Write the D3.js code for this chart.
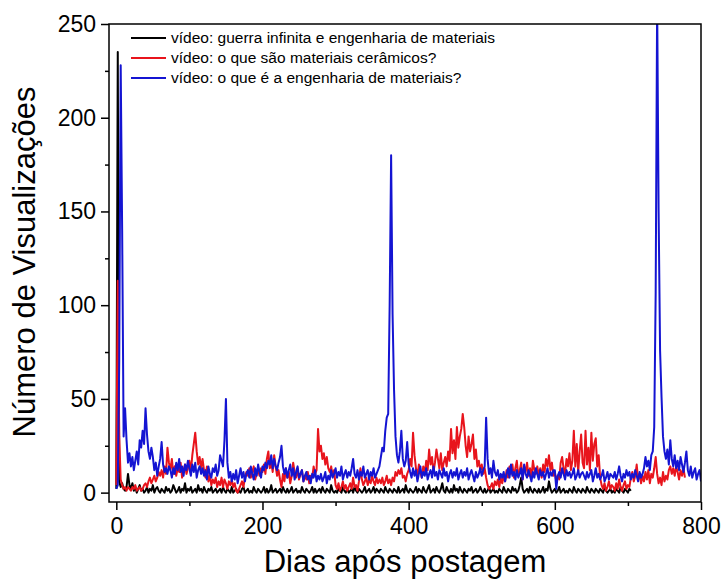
<!DOCTYPE html>
<html>
<head>
<meta charset="utf-8">
<script src="https://cdn.jsdelivr.net/npm/d3@7"></script>
<style>
  html, body { margin: 0; padding: 0; background: #fff; }
  svg text { font-family: "Liberation Sans", Arial, sans-serif; fill: #000; }
</style>
</head>
<body>
<svg id="chart" width="722" height="579"></svg>
<script>
  // one value every 2 days, starting at day 0
  var step = 2;

  var blackViews = [
    2, 235, 6, 3, 5, 2, 1, 3, 10, 4,
    2, 5, 1, 3, 0, 2, 4, 1, 2, 0,
    1, 3, 0, 2, 1, 4, 0, 2, 3, 1,
    0, 2, 1, 0, 3, 1, 2, 0, 1, 4,
    2, 0, 1, 3, 0, 2, 1, 5, 0, 2,
    1, 3, 0, 1, 2, 0, 4, 1, 2, 0,
    3, 1, 0, 2, 1, 3, 0, 1, 2, 0,
    1, 2, 0, 3, 1, 0, 2, 1, 0, 3,
    0, 1, 2, 0, 1, 0, 2, 3, 0, 1,
    2, 0, 1, 0, 3, 1, 0, 2, 1, 0,
    1, 3, 0, 2, 0, 1, 4, 0, 1, 2,
    0, 1, 2, 0, 3, 1, 0, 2, 0, 1,
    3, 0, 1, 2, 0, 1, 0, 3, 1, 0,
    2, 1, 0, 1, 3, 0, 2, 0, 1, 2,
    0, 3, 1, 0, 2, 1, 0, 4, 1, 0,
    1, 0, 2, 1, 0, 3, 1, 0, 2, 0,
    1, 2, 0, 3, 1, 0, 2, 1, 0, 1,
    3, 0, 1, 2, 0, 1, 3, 0, 2, 1,
    0, 2, 1, 0, 3, 1, 0, 2, 1, 0,
    2, 1, 0, 3, 0, 1, 2, 0, 4, 1,
    0, 2, 1, 0, 1, 3, 0, 2, 1, 0,
    3, 1, 0, 2, 4, 0, 1, 2, 0, 3,
    1, 0, 2, 5, 1, 0, 3, 1, 0, 2,
    0, 4, 1, 2, 0, 3, 1, 0, 2, 1,
    0, 2, 1, 3, 0, 1, 2, 0, 1, 3,
    1, 0, 2, 0, 1, 3, 0, 1, 2, 0,
    1, 0, 2, 1, 0, 3, 1, 0, 2, 1,
    0, 3, 1, 2, 0, 1, 4, 8, 2, 0,
    1, 2, 0, 3, 1, 0, 2, 1, 0, 2,
    0, 1, 3, 0, 2, 1, 6, 2, 0, 1,
    2, 0, 1, 3, 0, 1, 2, 0, 1, 0,
    2, 1, 0, 3, 1, 0, 2, 1, 0, 2,
    1, 0, 3, 1, 0, 2, 1, 0, 2, 1,
    0, 2, 1, 0, 3, 1, 0, 1, 2, 0,
    1, 0, 2, 1, 0, 3, 1, 0, 2, 1,
    0, 2, 1
  ];

  var redViews = [
    4, 113, 30, 7, 4, 2, 3, 1, 3, 2,
    1, 3, 2, 4, 1, 2, 3, 1, 2, 4,
    5, 3, 6, 8, 5, 7, 9, 6, 8, 11,
    9, 12, 8, 14, 10, 24, 16, 12, 18, 10,
    14, 9, 13, 11, 16, 8, 12, 15, 10, 13,
    17, 11, 20, 26, 32, 22, 15, 19, 13, 18,
    12, 8, 14, 6, 9, 4, 7, 5, 8, 3,
    6, 4, 8, 3, 7, 5, 2, 6, 4, 7,
    3, 5, 1, 0, 2, 4, 6, 3, 8, 11,
    9, 13, 8, 11, 14, 7, 10, 12, 9, 13,
    11, 15, 10, 18, 22, 13, 16, 11, 20, 14,
    9, 12, 7, 3, 10, 6, 13, 8, 11, 5,
    9, 16, 11, 8, 13, 7, 10, 12, 6, 9,
    7, 11, 5, 9, 8, 14, 10, 12, 34, 22,
    25, 18, 21, 15, 19, 13, 11, 14, 9, 12,
    4, 2, 5, 1, 3, 6, 2, 4, 1, 3,
    5, 2, 8, 3, 4, 1, 6, 13, 7, 4,
    6, 8, 4, 7, 5, 9, 6, 4, 8, 5,
    7, 5, 8, 4, 6, 9, 5, 7, 4, 8,
    6, 11, 9, 12, 10, 13, 8, 9, 6, 10,
    12, 18, 14, 32, 20, 13, 9, 15, 11, 8,
    14, 10, 17, 12, 23, 15, 19, 11, 16, 23,
    18, 13, 21, 12, 16, 19, 14, 22, 17, 34,
    21, 28, 18, 35, 24, 30, 34, 42, 35, 25,
    19, 30, 22, 26, 31, 18, 23, 14, 17, 12,
    15, 10, 13, 8, 4, 2, 3, 5, 2, 6,
    4, 7, 3, 8, 5, 9, 6, 12, 8, 14,
    10, 15, 8, 13, 17, 9, 12, 16, 7, 14,
    11, 16, 9, 13, 8, 17, 12, 10, 14, 9,
    13, 8, 15, 11, 18, 14, 20, 12, 16, 9,
    11, 6, 9, 7, 16, 19, 13, 10, 18, 14,
    21, 12, 17, 33, 14, 26, 11, 22, 31, 16,
    13, 33, 15, 24, 12, 32, 17, 26, 29, 14,
    20, 8, 4, 2, 5, 1, 3, 6, 2, 4,
    3, 1, 5, 2, 7, 3, 1, 4, 6, 2,
    4, 3, 8, 11, 6, 9, 15, 7, 10, 5,
    9, 6, 11, 7, 12, 5, 10, 8, 13, 19,
    10, 5, 8, 4, 11, 6, 9, 7, 12, 14,
    10, 13, 9, 14, 11, 7, 12, 9, 13, 8
  ];

  var blueViews = [
    2, 4, 70, 228, 140, 30, 45, 28, 16, 21,
    14, 19, 12, 17, 22, 15, 28, 24, 33, 26,
    45, 31, 22, 18, 24, 19, 12, 16, 9, 14,
    18, 27, 15, 11, 13, 10, 14, 12, 8, 13,
    10, 16, 12, 18, 11, 14, 9, 15, 12, 17,
    13, 9, 15, 11, 16, 8, 12, 14, 10, 13,
    9, 12, 7, 14, 10, 8, 13, 11, 15, 9,
    12, 20, 17, 14, 28, 50, 16, 8, 11, 6,
    10, 7, 12, 5, 9, 13, 8, 11, 6, 10,
    12, 8, 14, 10, 7, 13, 9, 15, 11, 8,
    14, 12, 16, 13, 17, 15, 20, 13, 18, 14,
    12, 16, 19, 25, 14, 10, 13, 8, 12, 15,
    9, 13, 7, 11, 14, 8, 10, 12, 6, 9,
    11, 7, 9, 5, 10, 8, 12, 6, 9, 7,
    10, 6, 8, 11, 5, 9, 7, 12, 8, 10,
    13, 8, 11, 9, 14, 7, 10, 12, 8, 11,
    9, 13, 18, 10, 8, 12, 7, 11, 9, 14,
    8, 10, 12, 7, 11, 9, 13, 8, 10, 12,
    14, 19, 24, 22, 33, 40, 42, 100, 180, 95,
    55, 30, 20, 16, 22, 33, 18, 14, 17, 27,
    15, 11, 8, 13, 9, 12, 6, 10, 14, 8,
    11, 9, 13, 7, 10, 12, 8, 14, 9, 11,
    7, 12, 10, 8, 13, 9, 11, 6, 10, 12,
    8, 11, 9, 13, 7, 10, 12, 8, 11, 9,
    13, 7, 10, 12, 9, 6, 11, 8, 10, 13,
    9, 12, 14, 40, 18, 10, 13, 8, 17, 11,
    9, 12, 7, 10, 8, 11, 6, 10, 13, 8,
    15, 9, 11, 7, 12, 8, 10, 13, 7, 15,
    10, 8, 12, 9, 6, 11, 8, 13, 10, 7,
    12, 9, 11, 7, 10, 13, 8, 11, 9, 12,
    12, 2, 9, 11, 8, 13, 10, 7, 12, 9,
    11, 8, 10, 13, 7, 9, 12, 8, 10, 11,
    9, 7, 11, 8, 10, 12, 6, 9, 13, 8,
    10, 7, 9, 12, 6, 8, 11, 7, 10, 9,
    8, 11, 7, 10, 14, 9, 6, 10, 8, 12,
    9, 11, 7, 10, 8, 12, 9, 6, 11, 8,
    10, 13, 19, 14, 17, 12, 20, 22, 35, 107,
    262, 150, 76, 51, 30, 22, 18, 23, 15, 28,
    18, 14, 20, 13, 17, 12, 19, 15, 11, 16,
    22, 12, 9, 14, 8, 11, 13, 7, 10, 12, 6
  ];

  var seriesLabels = [
    'vídeo: guerra infinita e engenharia de materiais',
    'vídeo: o que são materiais cerâmicos?',
    'vídeo: o que é a engenharia de materiais?'
  ];
  var seriesColors = ['#000000', '#e8141c', '#1414d2'];

  var xTicks = [0, 200, 400, 600, 800];
  var xMinorTicks = [100, 300, 500, 700];
  var yTicks = [0, 50, 100, 150, 200, 250];
  var yMinorTicks = [25, 75, 125, 175, 225];

  var xTitle = 'Dias após postagem';
  var yTitle = 'Número de Visualizações';

  function createChart() {
    var svg = d3.select('#chart');
    var left = 109, right = 701, top = 24, bottom = 502;

    var x = d3.scaleLinear().domain([-10, 800]).range([left, right]);
    var y = d3.scaleLinear().domain([-5, 250]).range([bottom, top]);

    svg.append('defs').append('clipPath')
      .attr('id', 'plot-clip')
      .append('rect')
      .attr('x', left).attr('y', top)
      .attr('width', right - left).attr('height', bottom - top);

    var line = d3.line()
      .x(function (d, i) { return x(i * step); })
      .y(function (d) { return y(d); });

    var plot = svg.append('g').attr('clip-path', 'url(#plot-clip)');
    [blackViews, redViews, blueViews].forEach(function (values, k) {
      plot.append('path')
        .datum(values)
        .attr('fill', 'none')
        .attr('stroke', seriesColors[k])
        .attr('stroke-width', 2)
        .attr('stroke-linejoin', 'round')
        .attr('d', line);
    });

    // axes (major + minor ticks), domain lines replaced by the frame
    svg.append('g')
      .attr('transform', 'translate(0,' + bottom + ')')
      .call(d3.axisBottom(x).tickValues(xTicks).tickSize(8).tickPadding(8));
    svg.append('g')
      .attr('transform', 'translate(0,' + bottom + ')')
      .call(d3.axisBottom(x).tickValues(xMinorTicks).tickSize(4).tickFormat(''));

    svg.append('g')
      .attr('transform', 'translate(' + left + ',0)')
      .call(d3.axisLeft(y).tickValues(yTicks).tickSize(8).tickPadding(5));
    svg.append('g')
      .attr('transform', 'translate(' + left + ',0)')
      .call(d3.axisLeft(y).tickValues(yMinorTicks).tickSize(4).tickFormat(''));

    svg.selectAll('.domain').remove();
    svg.selectAll('.tick line').attr('stroke', '#000').attr('stroke-width', 1.5);
    svg.selectAll('.tick text')
      .style('font-size', '23px')
      .style('font-family', '"Liberation Sans", Arial, sans-serif')
      .attr('fill', '#000');

    svg.append('rect')
      .attr('x', left).attr('y', top)
      .attr('width', right - left).attr('height', bottom - top)
      .attr('fill', 'none')
      .attr('stroke', '#000')
      .attr('stroke-width', 1.5);

    // legend
    var legend = svg.append('g');
    seriesLabels.forEach(function (label, k) {
      var ly = 38 + k * 20;
      legend.append('line')
        .attr('x1', 131).attr('x2', 166)
        .attr('y1', ly).attr('y2', ly)
        .attr('stroke', seriesColors[k])
        .attr('stroke-width', 2);
      legend.append('text')
        .attr('x', 171).attr('y', ly)
        .attr('dy', '0.35em')
        .style('font-size', '15.5px')
        .text(label);
    });

    svg.append('text')
      .attr('x', 405).attr('y', 572)
      .attr('text-anchor', 'middle')
      .style('font-size', '31px')
      .text(xTitle);

    svg.append('text')
      .attr('transform', 'translate(35,262) rotate(-90)')
      .attr('text-anchor', 'middle')
      .style('font-size', '31px')
      .text(yTitle);
  }

  createChart();
</script>
</body>
</html>
